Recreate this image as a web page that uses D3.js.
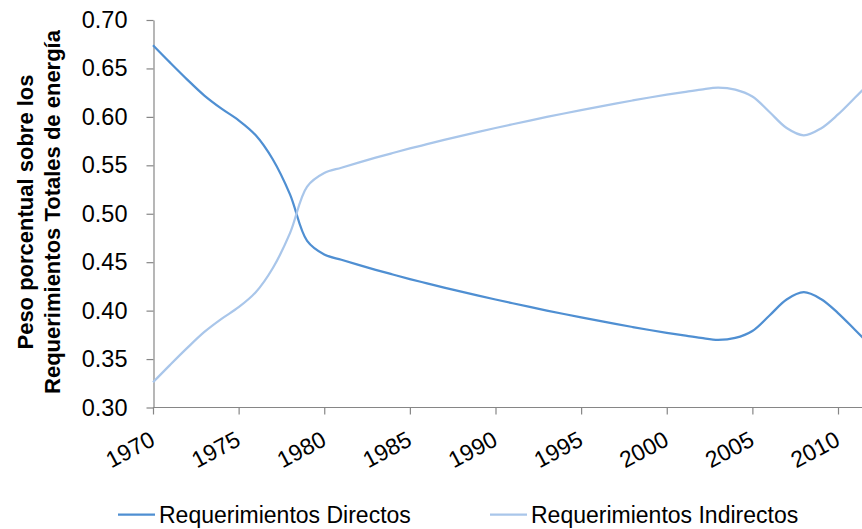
<!DOCTYPE html>
<html>
<head>
<meta charset="utf-8">
<script src="https://cdn.jsdelivr.net/npm/d3@7"></script>
<style>
  body { margin: 0; background: #fff; }
  svg { display: block; font-family: Arial, "Liberation Sans", sans-serif; }
</style>
</head>
<body>
<div id="chart"></div>
<script>
// data, one value per year
const years = d3.range(1970, 2013)
const directos = [
  0.6740, 0.6560, 0.6385, 0.6220, 0.6085, 0.5965, 0.5810, 0.5560, 0.5200, 0.4720,
  0.4580, 0.4525, 0.4472, 0.4421, 0.4373, 0.4326, 0.4282, 0.4238, 0.4196, 0.4155,
  0.4115, 0.4076, 0.4038, 0.4001, 0.3965, 0.3930, 0.3896, 0.3863, 0.3831, 0.3800,
  0.3771, 0.3744, 0.3718, 0.3698, 0.3718, 0.3790, 0.3950, 0.4115, 0.4190, 0.4120,
  0.3975, 0.3800, 0.3620
]
const indirectos = [
  0.3260, 0.3440, 0.3615, 0.3780, 0.3915, 0.4035, 0.4190, 0.4440, 0.4800, 0.5280,
  0.5420, 0.5475, 0.5528, 0.5579, 0.5627, 0.5674, 0.5718, 0.5762, 0.5804, 0.5845,
  0.5885, 0.5924, 0.5962, 0.5999, 0.6035, 0.6070, 0.6104, 0.6137, 0.6169, 0.6200,
  0.6229, 0.6256, 0.6282, 0.6302, 0.6282, 0.6210, 0.6050, 0.5885, 0.5810, 0.5880,
  0.6025, 0.6200, 0.6380
]
const yTicks = [0.30, 0.35, 0.40, 0.45, 0.50, 0.55, 0.60, 0.65, 0.70]
const xTicks = [1970, 1975, 1980, 1985, 1990, 1995, 2000, 2005, 2010]
const seriesNames = ['Requerimientos Directos', 'Requerimientos Indirectos']
const seriesColors = ['#4f8fd2', '#a9c6ea']

const width = 862, height = 529
const svg = d3.select('#chart').append('svg')
  .attr('width', width)
  .attr('height', height)

// scales
const x = d3.scaleLinear().domain([1970, 2010]).range([153, 838])
const y = d3.scaleLinear().domain([0.30, 0.70]).range([407.5, 20])

// y axis
const yAxis = d3.axisLeft(y)
  .tickValues(yTicks)
  .tickFormat(d3.format('.2f'))
  .tickSizeInner(7)
  .tickSizeOuter(0)
  .tickPadding(19)
const gy = svg.append('g')
  .attr('transform', 'translate(153.5,0)')
  .call(yAxis)
gy.selectAll('text').attr('font-size', '23.5px').attr('fill', '#000')
  .attr('font-family', 'Arial, "Liberation Sans", sans-serif')

// x axis
const xAxis = d3.axisBottom(x)
  .tickValues(xTicks)
  .tickFormat(d3.format('d'))
  .tickSizeInner(7)
  .tickSizeOuter(0)
const gx = svg.append('g')
  .attr('transform', 'translate(0,407.5)')
  .call(xAxis)
gx.select('.domain').attr('d', `M153,0H${width}`)
gx.selectAll('text')
  .attr('font-size', '23px')
  .attr('fill', '#000')
  .attr('font-family', 'Arial, "Liberation Sans", sans-serif')
  .attr('text-anchor', 'end')
  .attr('y', 0).attr('dy', 0)
  .attr('transform', 'translate(3,37) rotate(-28)')

svg.selectAll('.domain, .tick line').attr('stroke', '#868686').attr('stroke-width', 1.2)

// y axis title
const title = svg.append('text')
  .attr('transform', 'translate(0,212) rotate(-90)')
  .attr('text-anchor', 'middle')
  .attr('font-size', '22px')
  .attr('font-weight', 'bold')
  .attr('fill', '#000')
title.append('tspan').attr('x', 0).attr('y', 33).text('Peso porcentual sobre los')
title.append('tspan').attr('x', 0).attr('y', 60).text('Requerimientos Totales de energía')

// lines
const line = d3.line()
  .x((d, i) => x(years[i]))
  .y(d => y(d))
  .curve(d3.curveCatmullRom.alpha(0.5))

const allSeries = [directos, indirectos]
svg.selectAll('.series')
  .data(allSeries)
  .join('path')
  .attr('class', 'series')
  .attr('d', d => line(d))
  .attr('fill', 'none')
  .attr('stroke', (d, i) => seriesColors[i])
  .attr('stroke-width', 2.25)

// legend
const legendX = [118, 490]
const legend = svg.selectAll('.legend')
  .data(seriesNames)
  .join('g')
  .attr('class', 'legend')
  .attr('transform', (d, i) => `translate(${legendX[i]},514.5)`)
legend.append('line')
  .attr('x1', 0).attr('x2', 37)
  .attr('stroke', (d, i) => seriesColors[i])
  .attr('stroke-width', 2.25)
legend.append('text')
  .attr('x', 41)
  .attr('y', 8.5)
  .attr('font-size', '23px')
  .attr('fill', '#000')
  .text(d => d)
</script>
</body>
</html>
